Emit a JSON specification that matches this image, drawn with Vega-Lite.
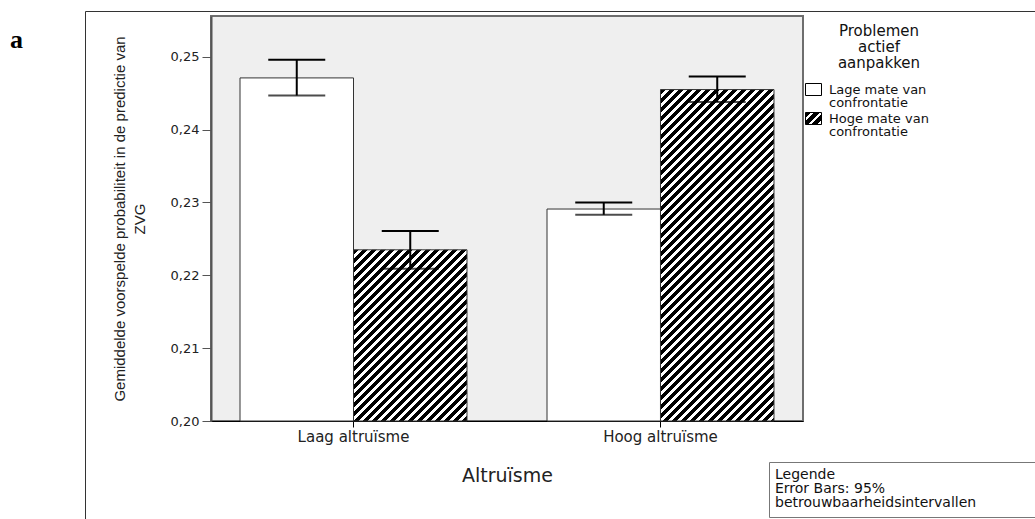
{
  "$schema": "https://vega.github.io/schema/vega-lite/v6.json",
  "width": 592,
  "height": 405,
  "autosize": "none",
  "padding": {"left": 211, "top": 16, "right": 232, "bottom": 98},
  "background": "white",
  "title": {"text": "a", "font": "Liberation Serif", "fontSize": 26, "fontWeight": "bold", "color": "black", "anchor": "start", "frame": "group", "orient": "top", "offset": 0, "dx": -201, "dy": 63, "baseline": "alphabetic"},
  "params": [
    {"name": "hs", "value": [
      {"offset":0,"color":"#000"},{"offset":0.012,"color":"#000"},{"offset":0.012,"color":"#fff"},{"offset":0.02,"color":"#fff"},
      {"offset":0.02,"color":"#000"},{"offset":0.032,"color":"#000"},{"offset":0.032,"color":"#fff"},{"offset":0.04,"color":"#fff"},
      {"offset":0.04,"color":"#000"},{"offset":0.052,"color":"#000"},{"offset":0.052,"color":"#fff"},{"offset":0.06,"color":"#fff"},
      {"offset":0.06,"color":"#000"},{"offset":0.072,"color":"#000"},{"offset":0.072,"color":"#fff"},{"offset":0.08,"color":"#fff"},
      {"offset":0.08,"color":"#000"},{"offset":0.092,"color":"#000"},{"offset":0.092,"color":"#fff"},{"offset":0.1,"color":"#fff"},
      {"offset":0.1,"color":"#000"},{"offset":0.112,"color":"#000"},{"offset":0.112,"color":"#fff"},{"offset":0.12,"color":"#fff"},
      {"offset":0.12,"color":"#000"},{"offset":0.132,"color":"#000"},{"offset":0.132,"color":"#fff"},{"offset":0.14,"color":"#fff"},
      {"offset":0.14,"color":"#000"},{"offset":0.152,"color":"#000"},{"offset":0.152,"color":"#fff"},{"offset":0.16,"color":"#fff"},
      {"offset":0.16,"color":"#000"},{"offset":0.172,"color":"#000"},{"offset":0.172,"color":"#fff"},{"offset":0.18,"color":"#fff"},
      {"offset":0.18,"color":"#000"},{"offset":0.192,"color":"#000"},{"offset":0.192,"color":"#fff"},{"offset":0.2,"color":"#fff"},
      {"offset":0.2,"color":"#000"},{"offset":0.212,"color":"#000"},{"offset":0.212,"color":"#fff"},{"offset":0.22,"color":"#fff"},
      {"offset":0.22,"color":"#000"},{"offset":0.232,"color":"#000"},{"offset":0.232,"color":"#fff"},{"offset":0.24,"color":"#fff"},
      {"offset":0.24,"color":"#000"},{"offset":0.252,"color":"#000"},{"offset":0.252,"color":"#fff"},{"offset":0.26,"color":"#fff"},
      {"offset":0.26,"color":"#000"},{"offset":0.272,"color":"#000"},{"offset":0.272,"color":"#fff"},{"offset":0.28,"color":"#fff"},
      {"offset":0.28,"color":"#000"},{"offset":0.292,"color":"#000"},{"offset":0.292,"color":"#fff"},{"offset":0.3,"color":"#fff"},
      {"offset":0.3,"color":"#000"},{"offset":0.312,"color":"#000"},{"offset":0.312,"color":"#fff"},{"offset":0.32,"color":"#fff"},
      {"offset":0.32,"color":"#000"},{"offset":0.332,"color":"#000"},{"offset":0.332,"color":"#fff"},{"offset":0.34,"color":"#fff"},
      {"offset":0.34,"color":"#000"},{"offset":0.352,"color":"#000"},{"offset":0.352,"color":"#fff"},{"offset":0.36,"color":"#fff"},
      {"offset":0.36,"color":"#000"},{"offset":0.372,"color":"#000"},{"offset":0.372,"color":"#fff"},{"offset":0.38,"color":"#fff"},
      {"offset":0.38,"color":"#000"},{"offset":0.392,"color":"#000"},{"offset":0.392,"color":"#fff"},{"offset":0.4,"color":"#fff"},
      {"offset":0.4,"color":"#000"},{"offset":0.412,"color":"#000"},{"offset":0.412,"color":"#fff"},{"offset":0.42,"color":"#fff"},
      {"offset":0.42,"color":"#000"},{"offset":0.432,"color":"#000"},{"offset":0.432,"color":"#fff"},{"offset":0.44,"color":"#fff"},
      {"offset":0.44,"color":"#000"},{"offset":0.452,"color":"#000"},{"offset":0.452,"color":"#fff"},{"offset":0.46,"color":"#fff"},
      {"offset":0.46,"color":"#000"},{"offset":0.472,"color":"#000"},{"offset":0.472,"color":"#fff"},{"offset":0.48,"color":"#fff"},
      {"offset":0.48,"color":"#000"},{"offset":0.492,"color":"#000"},{"offset":0.492,"color":"#fff"},{"offset":0.5,"color":"#fff"},
      {"offset":0.5,"color":"#000"},{"offset":0.512,"color":"#000"},{"offset":0.512,"color":"#fff"},{"offset":0.52,"color":"#fff"},
      {"offset":0.52,"color":"#000"},{"offset":0.532,"color":"#000"},{"offset":0.532,"color":"#fff"},{"offset":0.54,"color":"#fff"},
      {"offset":0.54,"color":"#000"},{"offset":0.552,"color":"#000"},{"offset":0.552,"color":"#fff"},{"offset":0.56,"color":"#fff"},
      {"offset":0.56,"color":"#000"},{"offset":0.572,"color":"#000"},{"offset":0.572,"color":"#fff"},{"offset":0.58,"color":"#fff"},
      {"offset":0.58,"color":"#000"},{"offset":0.592,"color":"#000"},{"offset":0.592,"color":"#fff"},{"offset":0.6,"color":"#fff"},
      {"offset":0.6,"color":"#000"},{"offset":0.612,"color":"#000"},{"offset":0.612,"color":"#fff"},{"offset":0.62,"color":"#fff"},
      {"offset":0.62,"color":"#000"},{"offset":0.632,"color":"#000"},{"offset":0.632,"color":"#fff"},{"offset":0.64,"color":"#fff"},
      {"offset":0.64,"color":"#000"},{"offset":0.652,"color":"#000"},{"offset":0.652,"color":"#fff"},{"offset":0.66,"color":"#fff"},
      {"offset":0.66,"color":"#000"},{"offset":0.672,"color":"#000"},{"offset":0.672,"color":"#fff"},{"offset":0.68,"color":"#fff"},
      {"offset":0.68,"color":"#000"},{"offset":0.692,"color":"#000"},{"offset":0.692,"color":"#fff"},{"offset":0.7,"color":"#fff"},
      {"offset":0.7,"color":"#000"},{"offset":0.712,"color":"#000"},{"offset":0.712,"color":"#fff"},{"offset":0.72,"color":"#fff"},
      {"offset":0.72,"color":"#000"},{"offset":0.732,"color":"#000"},{"offset":0.732,"color":"#fff"},{"offset":0.74,"color":"#fff"},
      {"offset":0.74,"color":"#000"},{"offset":0.752,"color":"#000"},{"offset":0.752,"color":"#fff"},{"offset":0.76,"color":"#fff"},
      {"offset":0.76,"color":"#000"},{"offset":0.772,"color":"#000"},{"offset":0.772,"color":"#fff"},{"offset":0.78,"color":"#fff"},
      {"offset":0.78,"color":"#000"},{"offset":0.792,"color":"#000"},{"offset":0.792,"color":"#fff"},{"offset":0.8,"color":"#fff"},
      {"offset":0.8,"color":"#000"},{"offset":0.812,"color":"#000"},{"offset":0.812,"color":"#fff"},{"offset":0.82,"color":"#fff"},
      {"offset":0.82,"color":"#000"},{"offset":0.832,"color":"#000"},{"offset":0.832,"color":"#fff"},{"offset":0.84,"color":"#fff"},
      {"offset":0.84,"color":"#000"},{"offset":0.852,"color":"#000"},{"offset":0.852,"color":"#fff"},{"offset":0.86,"color":"#fff"},
      {"offset":0.86,"color":"#000"},{"offset":0.872,"color":"#000"},{"offset":0.872,"color":"#fff"},{"offset":0.88,"color":"#fff"},
      {"offset":0.88,"color":"#000"},{"offset":0.892,"color":"#000"},{"offset":0.892,"color":"#fff"},{"offset":0.9,"color":"#fff"},
      {"offset":0.9,"color":"#000"},{"offset":0.912,"color":"#000"},{"offset":0.912,"color":"#fff"},{"offset":0.92,"color":"#fff"},
      {"offset":0.92,"color":"#000"},{"offset":0.932,"color":"#000"},{"offset":0.932,"color":"#fff"},{"offset":0.94,"color":"#fff"},
      {"offset":0.94,"color":"#000"},{"offset":0.952,"color":"#000"},{"offset":0.952,"color":"#fff"},{"offset":0.96,"color":"#fff"},
      {"offset":0.96,"color":"#000"},{"offset":0.972,"color":"#000"},{"offset":0.972,"color":"#fff"},{"offset":0.98,"color":"#fff"},
      {"offset":0.98,"color":"#000"},{"offset":0.992,"color":"#000"},{"offset":0.992,"color":"#fff"},{"offset":1,"color":"#fff"}
    ]}
  ],
  "data": {"values": [
    {"alt": "Laag altruïsme", "conf": "Lage mate van confrontatie", "mean": 0.2471, "lo": 0.2447, "hi": 0.2496},
    {"alt": "Laag altruïsme", "conf": "Hoge mate van confrontatie", "mean": 0.2235, "lo": 0.2209, "hi": 0.2261},
    {"alt": "Hoog altruïsme", "conf": "Lage mate van confrontatie", "mean": 0.2291, "lo": 0.2283, "hi": 0.2300},
    {"alt": "Hoog altruïsme", "conf": "Hoge mate van confrontatie", "mean": 0.2455, "lo": 0.2438, "hi": 0.2473}
  ]},
  "encoding": {
    "x": {
      "field": "alt", "type": "nominal",
      "sort": ["Laag altruïsme", "Hoog altruïsme"],
      "scale": {"paddingInner": 0.2606, "paddingOuter": 0.0945},
      "title": "Altruïsme",
      "axis": {"labelAngle": 0, "labelFont": "DejaVu Sans", "labelFontSize": 15, "labelColor": "#222", "tickSize": 6, "tickColor": "#000", "domainColor": "#000", "labelPadding": 2, "titleFont": "DejaVu Sans", "titleFontSize": 19, "titleFontWeight": "normal", "titleColor": "#222", "titlePadding": 22}
    },
    "xOffset": {"field": "conf", "type": "nominal", "sort": ["Lage mate van confrontatie", "Hoge mate van confrontatie"], "scale": {"paddingInner": 0, "paddingOuter": 0}}
  },
  "layer": [
    {
      "mark": {"type": "bar", "stroke": "#333", "strokeWidth": 1},
      "encoding": {
        "y": {
          "field": "mean", "type": "quantitative",
          "scale": {"domain": [0.2, 0.2556], "nice": false, "zero": false},
          "title": ["Gemiddelde voorspelde probabiliteit in de predictie van", "ZVG"],
          "axis": {"values": [0.2, 0.21, 0.22, 0.23, 0.24, 0.25], "labelExpr": "replace(format(datum.value, '.2f'), '.', ',')", "labelFont": "DejaVu Sans", "labelFontSize": 13, "labelColor": "#222", "tickSize": 9, "tickColor": "#555", "domainColor": "#555", "domainWidth": 2, "labelPadding": 3, "grid": false, "titleFont": "Liberation Sans", "titleFontSize": 15, "titleFontWeight": "normal", "titleColor": "#222", "titleLineHeight": 20, "titlePadding": 23}
        },
        "y2": {"datum": 0.2},
        "fill": {
          "field": "conf", "type": "nominal",
          "scale": {"domain": ["Lage mate van confrontatie", "Hoge mate van confrontatie"], "range": ["#ffffff", {"expr": "{gradient: 'linear', x1: 0, y1: 0, x2: 18, y2: 13.5, stops: hs}"}]},
          "condition": [
            {"test": "datum.alt === 'Laag altruïsme' && datum.conf === 'Hoge mate van confrontatie'", "value": {"expr": "{gradient: 'linear', x1: 0, y1: 0, x2: 1.2106, y2: 1.826, stops: hs}"}},
            {"test": "datum.alt === 'Hoog altruïsme' && datum.conf === 'Hoge mate van confrontatie'", "value": {"expr": "{gradient: 'linear', x1: 0, y1: 0, x2: 0.4162, y2: 1.2153, stops: hs}"}}
          ],
          "legend": {
            "orient": "none", "legendX": 594, "legendY": 8, "padding": 0,
            "title": ["Problemen", "actief", "aanpakken"],
            "titleFont": "DejaVu Sans", "titleFontSize": 15, "titleFontWeight": "normal", "titleLineHeight": 16, "titleAlign": "center", "titleAnchor": "middle", "titleColor": "#111", "titlePadding": 10,
            "labelFont": "DejaVu Sans", "labelFontSize": 13, "labelColor": "#111", "labelOffset": 7, "labelBaseline": "middle",
            "labelExpr": "datum.label === 'Lage mate van confrontatie' ? ['Lage mate van', 'confrontatie'] : ['Hoge mate van', 'confrontatie']",
            "symbolType": "M-1,-0.75H1V0.75H-1Z", "symbolSize": 256, "symbolStrokeColor": "black", "symbolStrokeWidth": 1, "rowPadding": 0,
            "encode": {
              "symbols": {"update": {"stroke": {"value": "black"}, "strokeWidth": {"value": 1}}},
              "labels": {"update": {"lineHeight": {"value": 13.5}}},
              "title": {"update": {"dx": {"value": 12}}}
            }
          }
        }
      }
    },
    {
      "mark": {"type": "rule", "color": "black", "strokeWidth": 2},
      "encoding": {
        "y": {"field": "lo", "type": "quantitative"},
        "y2": {"field": "hi"},
        "strokeDash": {
          "datum": "ci", "type": "nominal",
          "scale": {"range": [[1, 0]]},
          "legend": {
            "orient": "none", "legendX": 558, "legendY": 446, "padding": 6,
            "title": ["Legende", "Error Bars: 95%", "betrouwbaarheidsintervallen"],
            "titleFont": "DejaVu Sans", "titleFontSize": 14, "titleFontWeight": "normal", "titleLineHeight": 14, "titleColor": "#111", "titlePadding": 0, "titleLimit": 500,
            "strokeColor": "#777",
            "symbolSize": 0, "symbolStrokeWidth": 0, "labelExpr": "''", "labelFontSize": 1, "labelOffset": 270
          }
        }
      }
    },
    {
      "mark": {"type": "tick", "color": "black", "size": 57, "thickness": 2},
      "encoding": {
        "y": {"field": "hi", "type": "quantitative"},
        "opacity": {
          "datum": "frame", "type": "ordinal",
          "scale": {"range": [1, 1]},
          "legend": {"orient": "none", "legendX": -126, "legendY": -5, "padding": 480, "title": null, "strokeColor": "#333", "symbolSize": 0, "symbolOpacity": 0, "labelExpr": "''", "labelFontSize": 1}
        }
      }
    },
    {
      "mark": {"type": "tick", "color": "black", "size": 57, "thickness": 2},
      "encoding": {
        "y": {"field": "lo", "type": "quantitative"}
      }
    }
  ],
  "config": {
    "view": {"fill": "#efefef", "stroke": "#6e6e6e", "strokeWidth": 2},
    "font": "DejaVu Sans"
  }
}
